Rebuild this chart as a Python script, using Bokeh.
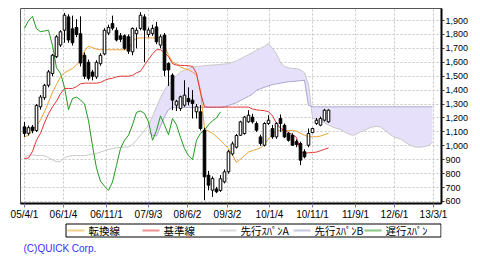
import numpy as np
from bokeh.plotting import figure
from bokeh.layouts import column
from bokeh.models import (FixedTicker, NumeralTickFormatter, ColumnDataSource, Range1d)
from bokeh.core.properties import value
from bokeh.embed import file_html
from bokeh.resources import INLINE

# ---- candle data (one bar per period) ----
opens = [1136, 1090, 1135, 1110, 1280, 1345, 1435, 1519, 1640, 1724,
         1830, 1926, 1840, 1850, 1805, 1650, 1600, 1530, 1495, 1590,
         1660, 1810, 1878, 1830, 1790, 1790, 1783, 1675, 1805, 1843,
         1926, 1800, 1807, 1854, 1723, 1795, 1591, 1507, 1292, 1268,
         1292, 1340, 1328, 1244, 1244, 1112, 789, 681, 690, 679,
         741, 813, 942, 990, 1076, 1088, 1172, 1206, 1160, 1064,
         1004, 1160, 1124, 1064, 1196, 1148, 1088, 1076, 1030, 1016,
         957, 1004, 1095, 1160, 1148, 1184, 1172]
highs = [1172, 1145, 1150, 1300, 1365, 1445, 1545, 1660, 1795, 1830,
         1955, 1945, 1935, 1910, 1930, 1670, 1620, 1545, 1615, 1665,
         1845, 1870, 1935, 1850, 1810, 1800, 1800, 1850, 1850, 1960,
         1945, 1850, 1870, 1890, 1800, 1810, 1600, 1520, 1330, 1360,
         1471, 1420, 1400, 1300, 1292, 1130, 820, 780, 705, 790,
         830, 970, 1030, 1085, 1180, 1215, 1256, 1230, 1175, 1080,
         1170, 1220, 1150, 1170, 1225, 1160, 1100, 1090, 1045, 1030,
         975, 1124, 1130, 1200, 1210, 1265, 1262]
lows = [1064, 1075, 1090, 1100, 1260, 1330, 1420, 1500, 1630, 1710,
        1740, 1740, 1720, 1780, 1570, 1480, 1470, 1470, 1480, 1575,
        1650, 1795, 1830, 1750, 1745, 1690, 1660, 1650, 1700, 1830,
        1600, 1780, 1790, 1730, 1700, 1500, 1430, 1256, 1250, 1250,
        1280, 1290, 1196, 1196, 1110, 609, 680, 633, 660, 669,
        730, 800, 930, 980, 1070, 1080, 1165, 1160, 1100, 1000,
        995, 1150, 1050, 1050, 1100, 1055, 1030, 1000, 990, 861,
        910, 990, 1090, 1150, 1140, 1175, 1165]
closes = [1088, 1130, 1110, 1290, 1350, 1435, 1531, 1651, 1783, 1819,
          1938, 1760, 1740, 1800, 1595, 1500, 1485, 1500, 1600, 1650,
          1830, 1850, 1845, 1760, 1765, 1700, 1680, 1843, 1830, 1938,
          1831, 1831, 1843, 1747, 1783, 1543, 1545, 1328, 1320, 1352,
          1364, 1316, 1304, 1280, 1124, 777, 717, 765, 670, 763,
          813, 957, 1014, 1074, 1172, 1206, 1220, 1172, 1112, 1016,
          1160, 1184, 1064, 1160, 1160, 1064, 1040, 1004, 1010, 897,
          921, 1088, 1124, 1184, 1196, 1256, 1256]

# ---- indicator lines ----
tenkan = [1065, 1075, 1110, 1145, 1185, 1245, 1313, 1385, 1440, 1495,
          1525, 1540, 1555, 1580, 1610, 1680, 1715, 1705, 1695, 1690,
          1690, 1690, 1690, 1690, 1690, 1690, 1690, 1750, 1772, 1775,
          1775, 1775, 1775, 1775, 1772, 1720, 1650, 1600, 1590, 1565,
          1555, 1545, 1530, 1510, 1400, 1120, 1105, 1090, 1065, 1040,
          1010, 980, 935, 880, 905, 930, 955, 965, 975, 985,
          1010, 1050, 1085, 1105, 1110, 1110, 1110, 1110, 1105, 1090,
          1075, 1065, 1065, 1065, 1070, 1080, 1090]
kijun = [909, 912, 960, 1040, 1090, 1165, 1230, 1280, 1320, 1375,
         1412, 1412, 1412, 1425, 1445, 1450, 1450, 1450, 1450, 1455,
         1470, 1480, 1485, 1495, 1500, 1500, 1500, 1505, 1525, 1535,
         1580, 1620, 1660, 1690, 1690, 1670, 1640, 1590, 1580, 1578,
         1577, 1575, 1570, 1520, 1380, 1280, 1278, 1278, 1278, 1278,
         1278, 1278, 1278, 1278, 1278, 1278, 1278, 1265, 1258, 1255,
         1252, 1245, 1215, 1160, 1125, 1110, 1095, 1080, 1060, 960,
         945, 950, 952, 955, 965, 975, 985]
chikou = [1843, 1900, 1930, 1840, 1820, 1825, 1830, 1720, 1560, 1520,
          1420, 1260, 1340, 1350, 1330, 1300, 1180, 1000, 840, 745,
          710, 680, 740, 860, 980, 1040, 1076, 1150, 1240, 1250,
          1232, 1172, 1040, 1110, 1215, 1150, 1080, 1196, 1150, 1060,
          980, 930, 900, 1040, 1090, 1112, 1150, 1180, 1200, 1244]
span_a = [920, 930, 935, 930, 930, 928, 915, 900, 885, 890,
          915, 925, 930, 930, 930, 930, 935, 940, 945, 955,
          965, 975, 980, 985, 988, 990, 992, 1010, 1040, 1076,
          1110, 1150, 1210, 1280, 1345, 1400, 1440, 1475, 1505, 1530,
          1545, 1555, 1565, 1570, 1572, 1575, 1578, 1580, 1582, 1585,
          1588, 1590, 1600, 1610, 1625, 1640, 1655, 1670, 1685, 1700,
          1715, 1735, 1700, 1660, 1600, 1570, 1560, 1555, 1555, 1545,
          1525, 1440, 1200, 1190, 1182, 1165, 1150, 1135, 1125, 1118,
          1100, 1085, 1075, 1085, 1100, 1110, 1125, 1135, 1140, 1135,
          1115, 1090, 1070, 1058, 1050, 1030, 1010, 998, 990, 990,
          995, 1002, 1025]
span_b_start = 31
span_b = [1100, 1075, 1070, 1140, 1210, 1260, 1275, 1275, 1275, 1275,
          1275, 1275, 1275, 1275, 1275, 1275, 1275, 1275, 1275, 1280,
          1290, 1300, 1310, 1325, 1340, 1355, 1370, 1400, 1410, 1420,
          1430, 1440, 1445, 1450, 1455, 1460, 1462, 1465, 1468, 1470,
          1290, 1280, 1280, 1280, 1280, 1280, 1280, 1280, 1280, 1280,
          1280, 1280, 1280, 1280, 1280, 1280, 1280, 1280, 1280, 1280,
          1280, 1280, 1280, 1280, 1280, 1280, 1280, 1280, 1280, 1280,
          1280, 1280]

tick_bars = [0, 9.75, 20.5, 31, 40.75, 50.75, 61.25, 72, 82.75, 92.5, 102.25]
tick_labels = ["05/4/1", "06/1/4", "06/11/1", "07/9/3", "08/6/2", "09/3/2",
               "10/1/4", "10/11/1", "11/9/1", "12/6/1", "13/3/1"]
price_ticks = list(range(600, 2000, 100))
legend_labels = ["転換線", "基準線", "先行ｽﾊﾟﾝA", "先行ｽﾊﾟﾝB", "遅行ｽﾊﾟﾝ"]
legend_colors = ["#F3CE88", "#F09090", "#DCDCDC", "#C6C6DE", "#86C886"]
copyright_text = "(C)QUICK Corp."


def bx(i):
    # bar index -> horizontal coordinate (4 px per bar)
    return 24 + 4 * np.asarray(i, dtype=float)


n = len(closes)
xs = bx(np.arange(n))
o = np.array(opens, float); c = np.array(closes, float)
up = c >= o
src = ColumnDataSource(dict(
    x=xs, o=o, c=c, h=np.array(highs, float), l=np.array(lows, float),
    top=np.maximum(o, c), bot=np.minimum(o, c),
    fill=np.where(up, "white", "black")))

p = figure(width=480, height=222, output_backend="svg", toolbar_location=None,
           x_range=Range1d(20, 441), y_range=Range1d(585.6, 1986.2),
           y_axis_location="right", min_border_left=20, min_border_right=39,
           min_border_top=8, min_border_bottom=19)
p.background_fill_color = "white"
p.border_fill_color = "white"
p.outline_line_color = "#555555"
p.outline_line_width = 1

# grids
p.xgrid.ticker = FixedTicker(ticks=[int(v) for v in bx(tick_bars)])
p.ygrid.ticker = FixedTicker(ticks=price_ticks)
for g in (p.xgrid[0], p.ygrid[0]):
    g.grid_line_color = "#C4C4C4"
    g.grid_line_dash = "2 2"
    g.grid_line_width = 1

# cloud
kb = np.arange(span_b_start, span_b_start + len(span_b))
p.varea(x=bx(kb), y1=np.array(span_a, float)[kb], y2=np.array(span_b, float),
        fill_color="#E6E0FA", fill_alpha=1)
p.line(bx(np.arange(len(span_a))), span_a, line_color="#C8C8C8", line_width=1)
p.line(bx(kb), span_b, line_color="#ABA6CF", line_width=1)
p.line(bx(np.arange(len(chikou))), chikou, line_color="#229A22", line_width=1)
p.line(bx(np.arange(len(tenkan))), tenkan, line_color="#EDA030", line_width=1)
p.line(bx(np.arange(len(kijun))), kijun, line_color="#E33434", line_width=1)

# candles
p.segment(x0="x", y0="l", x1="x", y1="h", source=src, line_color="black", line_width=1)
p.vbar(x="x", width=2.6, top="top", bottom="bot", source=src,
       fill_color="fill", line_color="black", line_width=1)

# axes
xa = p.xaxis[0]
xa.ticker = FixedTicker(ticks=[int(v) for v in bx(tick_bars)])
xa.major_label_overrides = {int(v): t for v, t in zip(bx(tick_bars), tick_labels)}
xa.major_label_text_font = "Liberation Sans"
xa.major_label_text_font_size = "10px"
xa.major_label_text_color = "black"
xa.major_label_standoff = 1
xa.major_tick_in = 0
xa.major_tick_out = 4
xa.major_tick_line_color = "#7272BE"
xa.minor_tick_line_color = None
xa.axis_line_color = "black"
xa.axis_line_width = 2

ya = p.yaxis[0]
ya.ticker = FixedTicker(ticks=price_ticks)
ya.formatter = NumeralTickFormatter(format="0,0")
ya.major_label_text_font = "Liberation Sans"
ya.major_label_text_font_size = "9px"
ya.major_label_text_color = "black"
ya.major_label_standoff = 1
ya.major_tick_in = 0
ya.major_tick_out = 3
ya.major_tick_line_color = "#333333"
ya.minor_tick_line_color = None
ya.axis_line_color = "black"
ya.axis_line_width = 2

# ---- legend strip + copyright (separate small canvas, page-pixel coordinates;
#      its frame is aligned with the chart frame: x 20..441) ----
top_px = 222
q = figure(width=480, height=261 - top_px, output_backend="svg", toolbar_location=None,
           x_range=Range1d(20, 441), y_range=Range1d(261, top_px),
           x_axis_type=None, y_axis_type=None,
           min_border_left=20, min_border_right=39, min_border_top=0, min_border_bottom=0)
q.outline_line_color = None
q.grid.visible = False
q.background_fill_color = "white"
q.border_fill_color = "white"

box_l, box_r, box_t, box_b = 65.5, 440.5, 223.5, 236.5
q.quad(left=[box_l], right=[box_r], top=[box_t], bottom=[box_b],
       fill_color="white", line_color="black", line_width=1)
slot_x = [67, 142, 219, 293, 364]
mid_y = (box_t + box_b) / 2
sx = np.array(slot_x, float)
q.segment(x0=sx, y0=[mid_y] * 5, x1=sx + 17, y1=[mid_y] * 5,
          line_color=legend_colors, line_width=2)
q.text(x=sx + 21, y=[mid_y] * 5, text=legend_labels,
       text_font=value("Noto Sans CJK JP"), text_font_size="10.5px",
       text_baseline="middle", text_align="left", text_color="black")
q.text(x=[23], y=[248], text=[copyright_text], text_font=value("Liberation Sans"),
       text_font_size="10px", text_baseline="middle", text_align="left",
       text_color="#3333FF")

layout = column(p, q, spacing=0)
open("out.html", "w").write(file_html(layout, INLINE))
